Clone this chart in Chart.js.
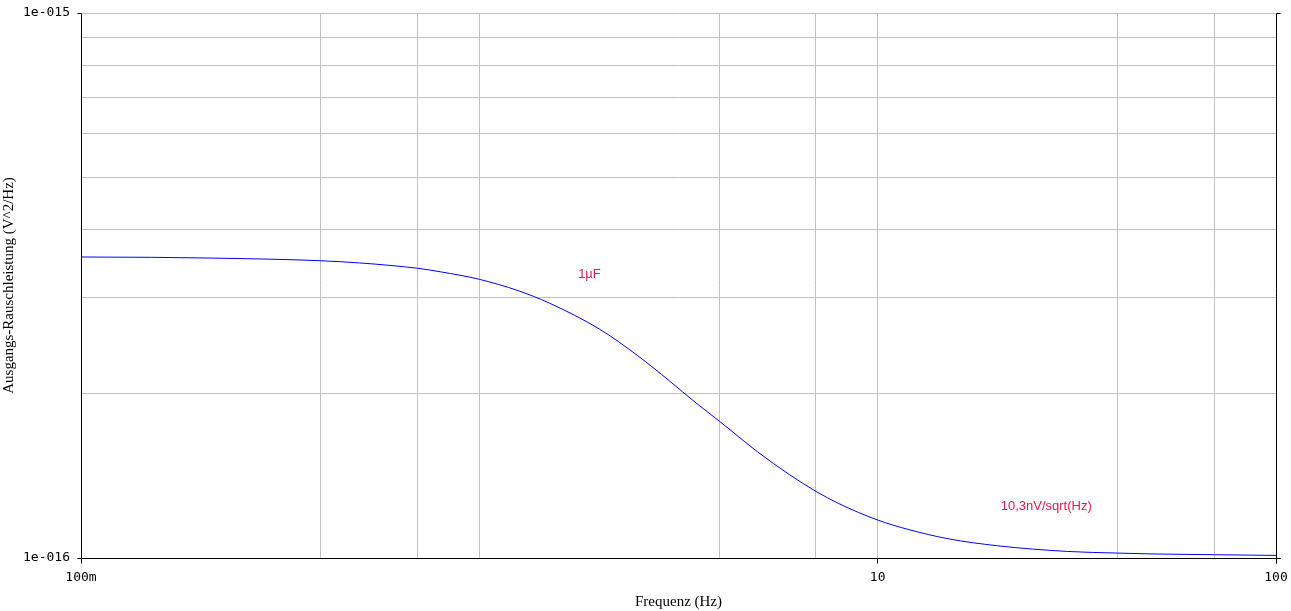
<!DOCTYPE html>
<html>
<head>
<meta charset="utf-8">
<script src="https://cdn.jsdelivr.net/npm/chart.js@4.4.1/dist/chart.umd.min.js"></script>
<style>
    html, body { margin: 0; padding: 0; background: #fff; }
    #wrap { width: 1291px; height: 611px; }
</style>
</head>
<body>
<div id="wrap"><canvas id="noiseChart" width="1291" height="611"></canvas></div>
<script>
// Werte (Frequenz in Hz, Rauschleistung in V^2/Hz)
const freqHz = [0.1, 0.15, 0.2, 0.3, 0.4, 0.5, 0.6, 0.7, 0.8, 1,
    1.25, 1.5, 2, 2.5, 3, 3.5, 4, 5, 6, 7,
    8, 10, 12, 15, 20, 30, 40, 50, 70, 100];
const noisePsd = [3.567e-16, 3.562e-16, 3.553e-16, 3.534e-16, 3.511e-16, 3.479e-16, 3.441e-16, 3.401e-16, 3.350e-16, 3.246e-16,
    3.095e-16, 2.935e-16, 2.632e-16, 2.350e-16, 2.114e-16, 1.925e-16, 1.784e-16, 1.565e-16, 1.423e-16, 1.325e-16,
    1.258e-16, 1.174e-16, 1.127e-16, 1.085e-16, 1.053e-16, 1.028e-16, 1.021e-16, 1.017e-16, 1.014e-16, 1.011e-16];

// Achsenteilung
const xTickValues = [0.1, 0.4, 0.7, 1, 4, 7, 10, 40, 70, 100];
const xTickLabels = ['100m', '', '', '', '', '', '10', '', '', '100'];
const yTickValues = [1e-16, 2e-16, 3e-16, 4e-16, 5e-16, 6e-16, 7e-16, 8e-16, 9e-16, 1e-15];
const yTickLabels = ['1e-016', '', '', '', '', '', '', '', '', '1e-015'];

// Beschriftungen im Diagramm
const annoText = ['1µF', '10,3nV/sqrt(Hz)'];
const annoFreq = [1.89, 26.5];
const annoPsd = [3.32e-16, 1.246e-16];

const tickFont = { family: 'DejaVu Sans Mono', size: 13 };
const titleFont = { family: 'Liberation Serif', size: 15 };

function labelFor(values, labels, v) {
    const i = values.findIndex(t => Math.abs(Math.log10(t) - Math.log10(v)) < 1e-6);
    return i >= 0 ? labels[i] : '';
}

function crisp(p) {
    return Math.round(p - 0.5) + 0.5;
}

// schwarze Achsen + Teilstriche (Positionen aus den Skalen)
const axisFrame = {
    id: 'axisFrame',
    afterDatasetsDraw(chart) {
        const { ctx, scales: { x, y } } = chart;
        ctx.save();
        ctx.fillStyle = '#e8164c';
        ctx.font = '13px "Liberation Sans", Arial, sans-serif';
        ctx.textAlign = 'center';
        ctx.textBaseline = 'middle';
        annoText.forEach((t, i) => {
            ctx.fillText(t, x.getPixelForValue(annoFreq[i]), y.getPixelForValue(annoPsd[i]));
        });
        ctx.restore();
    },
    afterDraw(chart) {
        const { ctx, chartArea: a, scales: { x, y } } = chart;
        const L = crisp(a.left), R = crisp(a.right), T = crisp(a.top), B = crisp(a.bottom);
        ctx.save();
        ctx.strokeStyle = '#000';
        ctx.lineWidth = 1;
        ctx.beginPath();
        ctx.moveTo(L, T); ctx.lineTo(L, B);
        ctx.moveTo(L - 4, B); ctx.lineTo(R + 4, B);
        ctx.moveTo(R, T); ctx.lineTo(R, B + 5);
        yTickValues.forEach((v, i) => {
            if (!yTickLabels[i]) return;
            const py = crisp(y.getPixelForValue(v));
            ctx.moveTo(L - 4, py); ctx.lineTo(L, py);
            ctx.moveTo(R, py); ctx.lineTo(R + 4, py);
        });
        xTickValues.forEach((v, i) => {
            if (!xTickLabels[i]) return;
            const px = crisp(x.getPixelForValue(v));
            ctx.moveTo(px, B); ctx.lineTo(px, B + 5);
        });
        ctx.stroke();
        ctx.restore();
    }
};

const points = freqHz.map((f, i) => ({ x: f, y: noisePsd[i] }));

new Chart(document.getElementById('noiseChart'), {
    type: 'line',
    data: {
        datasets: [{
            data: points,
            borderColor: '#0000ff',
            borderWidth: 1,
            pointRadius: 0,
            fill: false,
            cubicInterpolationMode: 'monotone'
        }]
    },
    options: {
        responsive: false,
        animation: false,
        devicePixelRatio: 1,
        layout: { padding: { top: 13, right: 15, left: 0, bottom: 0 } },
        plugins: { legend: { display: false }, tooltip: { enabled: false } },
        scales: {
            x: {
                type: 'logarithmic',
                min: 0.1,
                max: 100,
                afterBuildTicks: s => { s.ticks = xTickValues.map(v => ({ value: v })); },
                afterFit: s => {
                    s.height = 53;
                    s.paddingLeft = 0;
                    s.paddingRight = 0;
                },
                ticks: {
                    autoSkip: false,
                    maxRotation: 0,
                    padding: 12,
                    color: '#000',
                    font: tickFont,
                    callback: v => labelFor(xTickValues, xTickLabels, v)
                },
                grid: { color: '#c0c0c0', lineWidth: 1, drawTicks: false },
                border: { display: false },
                title: { display: true, text: 'Frequenz (Hz)', color: '#000', font: titleFont, padding: 0 }
            },
            y: {
                type: 'logarithmic',
                min: 1e-16,
                max: 1e-15,
                afterBuildTicks: s => { s.ticks = yTickValues.map(v => ({ value: v })); },
                afterFit: s => {
                    s.width = 81;
                    s.paddingTop = 0;
                    s.paddingBottom = 0;
                },
                ticks: {
                    autoSkip: false,
                    padding: 11,
                    color: '#000',
                    font: tickFont,
                    callback: v => labelFor(yTickValues, yTickLabels, v)
                },
                grid: { color: '#c0c0c0', lineWidth: 1, drawTicks: false },
                border: { display: false },
                title: { display: true, text: 'Ausgangs-Rauschleistung (V^2/Hz)', color: '#000', font: titleFont, padding: 0 }
            }
        }
    },
    plugins: [axisFrame]
});
</script>
</body>
</html>
